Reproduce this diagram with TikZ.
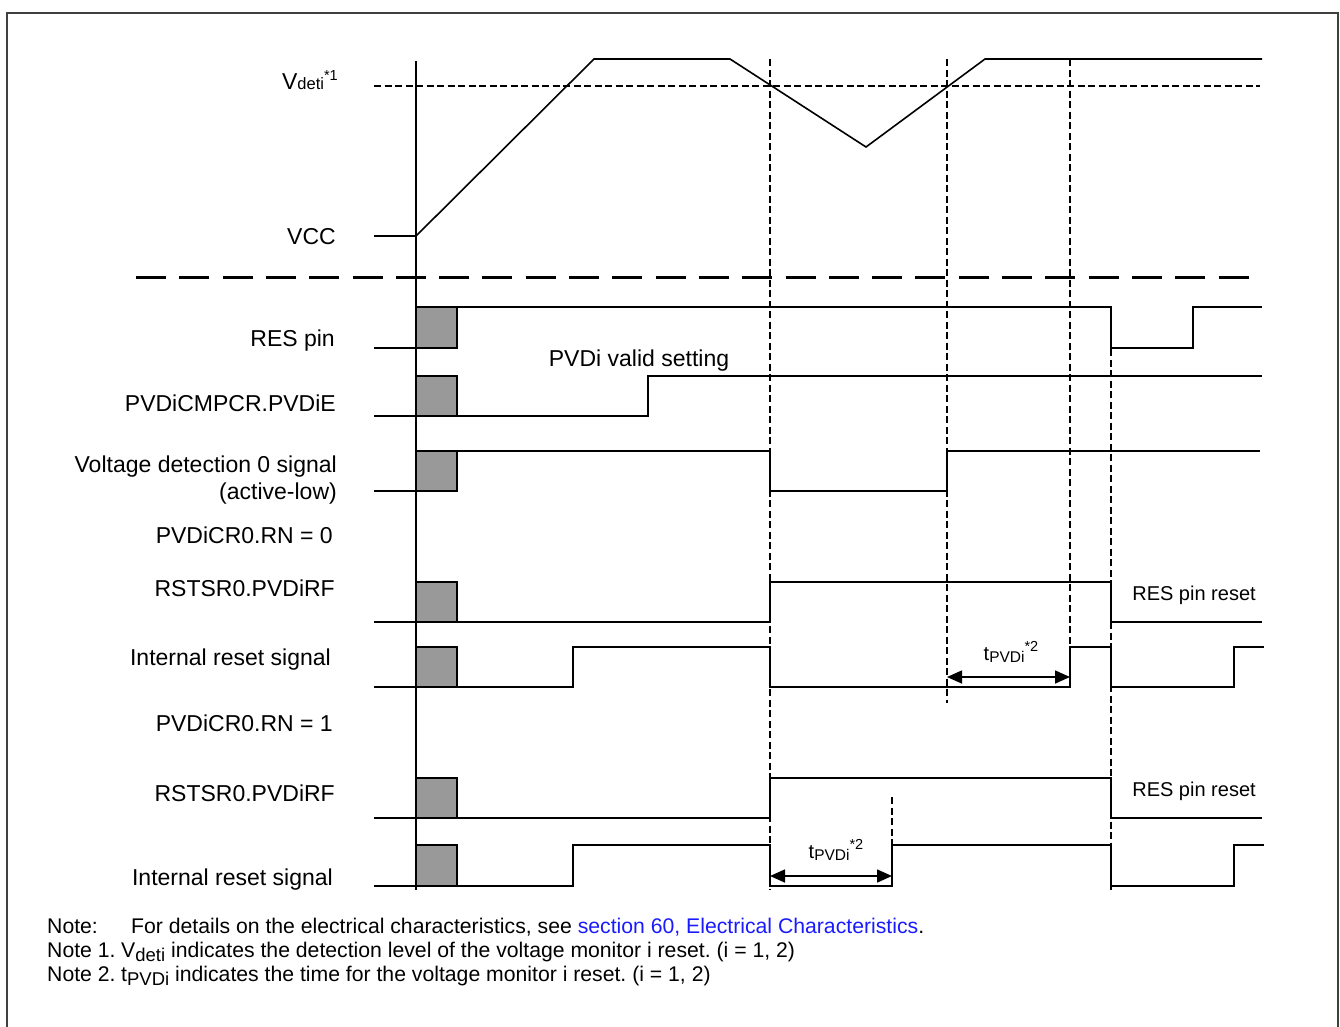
\documentclass[tikz,border=0pt]{standalone}
\usepackage{fontspec}
\setmainfont{Liberation Sans}
\usetikzlibrary{arrows.meta}
\definecolor{boxgray}{HTML}{999999}
\definecolor{framegray}{HTML}{404040}
\definecolor{linkblue}{HTML}{1A1AFF}
\newcommand{\lblfont}{\fontsize{23}{27}\selectfont}
\newcommand{\smfont}{\fontsize{20}{24}\selectfont}
\newcommand{\notefont}{\fontsize{21.2}{24}\selectfont}
\newcommand{\notesub}[1]{\raisebox{-4pt}{\fontsize{18.5}{18}\selectfont #1}}
\frenchspacing
\begin{document}
\begin{tikzpicture}[x=1pt,y=-1pt,
  sig/.style={line width=1.6pt, line join=miter},
  axisline/.style={line width=2pt},
  vdash/.style={line width=2.8pt, dash pattern=on 7pt off 3.5pt},
  sepdash/.style={line width=3pt, dash pattern=on 30pt off 13.3pt},
  gbox/.style={draw=black, line width=1.6pt, fill=boxgray},
  lbl/.style={anchor=base east, inner sep=0pt, font=\lblfont},
  dimarrow/.style={line width=1.6pt, {Triangle[length=15pt,width=13pt]}-{Triangle[length=15pt,width=13pt]}},
  notetxt/.style={anchor=base west, inner sep=0pt, font=\notefont}
]
\useasboundingbox (0,0) rectangle (1340,1026);
% frame
\draw[framegray, line width=1.5pt] (7,1040) -- (7,13) -- (1338,13) -- (1338,1040);

% main axis
\draw[axisline] (416,61) -- (416,890);

% threshold and separator
\draw[vdash] (374,86) -- (1260,86);
\draw[sepdash] (136,277) -- (1250,277);

% vertical dashed markers
\draw[vdash] (770,59) -- (770,890);
\draw[vdash] (947,59) -- (947,703);
\draw[vdash] (1070,59) -- (1070,688);
\draw[vdash] (1111,307) -- (1111,890);
\draw[vdash] (892,797) -- (892,886);

% VCC
\draw[sig] (374,236) -- (416,236) -- (594,59) -- (730,59) -- (866,147) -- (985,59) -- (1262,59);

% RES pin
\draw[sig] (374,348) -- (416,348);
\draw[sig] (457,307) -- (1111,307) -- (1111,348) -- (1193,348) -- (1193,307) -- (1262,307);
\filldraw[gbox] (416,307) rectangle (457,348);

% PVDiCMPCR.PVDiE
\draw[sig] (374,416) -- (416,416);
\draw[sig] (457,416) -- (648,416) -- (648,376) -- (1262,376);
\filldraw[gbox] (416,376) rectangle (457,416);

% Voltage detection 0
\draw[sig] (374,491) -- (416,491);
\draw[sig] (429,451) -- (770,451) -- (770,491) -- (947,491) -- (947,451) -- (1260,451);
\filldraw[gbox] (416,451) rectangle (457,491);

% RSTSR0.PVDiRF (RN=0)
\draw[sig] (374,622) -- (416,622);
\draw[sig] (457,622) -- (770,622) -- (770,582) -- (1111,582) -- (1111,622) -- (1262,622);
\filldraw[gbox] (416,582) rectangle (457,622);

% Internal reset (RN=0)
\draw[sig] (374,687) -- (416,687);
\draw[sig] (457,687) -- (573,687) -- (573,647) -- (770,647) -- (770,687) -- (1070,687) -- (1070,647) -- (1111,647) -- (1111,687) -- (1234,687) -- (1234,647) -- (1264,647);
\filldraw[gbox] (416,647) rectangle (457,687);

% RSTSR0.PVDiRF (RN=1)
\draw[sig] (374,818) -- (416,818);
\draw[sig] (457,818) -- (770,818) -- (770,778) -- (1111,778) -- (1111,818) -- (1262,818);
\filldraw[gbox] (416,778) rectangle (457,818);

% Internal reset (RN=1)
\draw[sig] (374,886) -- (416,886);
\draw[sig] (457,886) -- (573,886) -- (573,845) -- (770,845) -- (770,886) -- (892,886) -- (892,845) -- (1111,845) -- (1111,886) -- (1234,886) -- (1234,845) -- (1264,845);
\filldraw[gbox] (416,845) rectangle (457,886);

% dimension arrows
\coordinate (ta1) at (947,677);
\coordinate (tb1) at (1070,677);
\draw[dimarrow] (ta1) -- (tb1);
\coordinate (ta2) at (770,876);
\coordinate (tb2) at (892,876);
\draw[dimarrow] (ta2) -- (tb2);

\node[anchor=base, inner sep=0pt, font=\smfont] (tp1) at (1011,660)
  {t\raisebox{-2pt}{\fontsize{15.5}{15}\selectfont PVDi}\raisebox{9pt}{\fontsize{14.5}{14}\selectfont *2}};
\node[anchor=base, inner sep=0pt, font=\smfont] (tp2) at (836,858)
  {t\raisebox{-2pt}{\fontsize{15.5}{15}\selectfont PVDi}\raisebox{9pt}{\fontsize{14.5}{14}\selectfont *2}};

% left labels
\node[lbl] (lvdet) at (338,89) {V{\fontsize{16.5}{16}\selectfont deti}\raisebox{9pt}{\fontsize{14.5}{14}\selectfont *1}};
\node[lbl] (lvcc) at (336,244) {VCC};
\node[lbl] (lres) at (335,346) {RES pin};
\node[lbl] (lpvde) at (336,411) {PVDiCMPCR.PVDiE};
\node[lbl] (lvd0) at (337,472) {Voltage detection 0 signal};
\node[lbl] (lact) at (337,499) {(active-low)};
\node[lbl] (lrn0) at (333,543) {PVDiCR0.RN = 0};
\node[lbl] (lrf1) at (335,596) {RSTSR0.PVDiRF};
\node[lbl] (lir1) at (331,665) {Internal reset signal};
\node[lbl] (lrn1) at (333,731) {PVDiCR0.RN = 1};
\node[lbl] (lrf2) at (335,801) {RSTSR0.PVDiRF};
\node[lbl] (lir2) at (333,885) {Internal reset signal};

% in-diagram labels
\node[anchor=base, inner sep=0pt, font=\lblfont] (lvalid) at (639,366) {PVDi valid setting};
\node[anchor=base, inner sep=0pt, font=\smfont] (lrpr1) at (1194,600) {RES pin reset};
\node[anchor=base, inner sep=0pt, font=\smfont] (lrpr2) at (1194,796) {RES pin reset};

% notes
\node[notetxt] (n0a) at (47,933) {Note:};
\node[notetxt] (n0b) at (131,933) {For details on the electrical characteristics, see \textcolor{linkblue}{section 60, Electrical Characteristics}.};
\node[notetxt] (n1a) at (47,957) {Note 1.};
\node[notetxt] (n1b) at (121,957) {V\notesub{deti} indicates the detection level of the voltage monitor i reset. (i = 1, 2)};
\node[notetxt] (n2a) at (47,981) {Note 2.};
\node[notetxt] (n2b) at (121,981) {t\notesub{PVDi} indicates the time for the voltage monitor i reset. (i = 1, 2)};
\end{tikzpicture}
\end{document}
